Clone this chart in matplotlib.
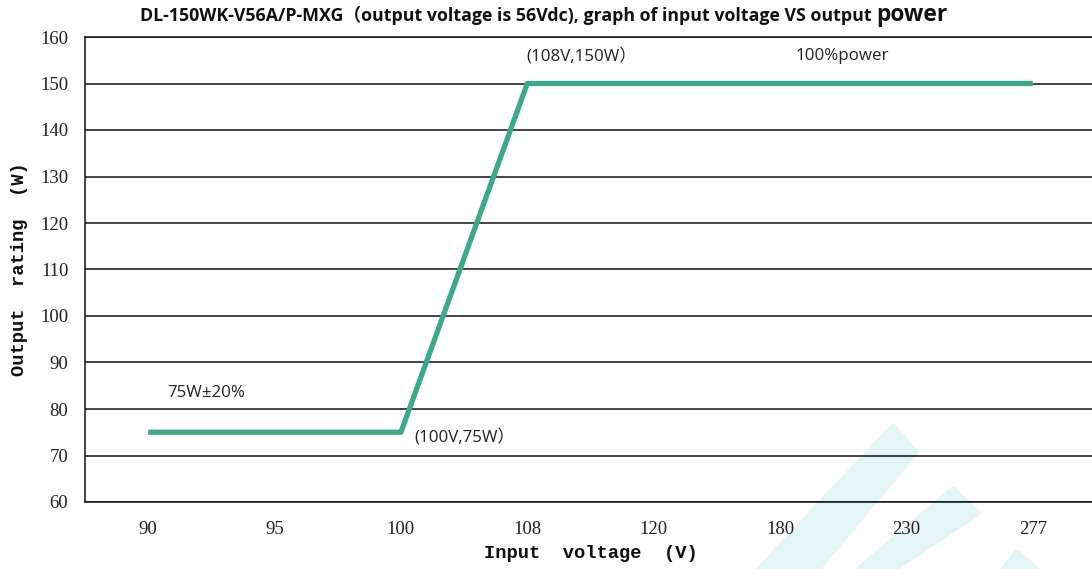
import matplotlib
matplotlib.use("Agg")
import matplotlib.pyplot as plt
from matplotlib.patches import Polygon
import numpy as np

# input voltage categories and output power
voltages = ["90", "95", "100", "108", "120", "180", "230", "277"]
power = [75, 75, 75, 150, 150, 150, 150, 150]
yticks = [60, 70, 80, 90, 100, 110, 120, 130, 140, 150, 160]

line_color = "#3fa88a"
serif = ["Liberation Serif", "DejaVu Serif"]
mono = ["Liberation Mono", "DejaVu Sans Mono"]
sans = ["Open Sans", "Noto Sans CJK SC", "DejaVu Sans"]

fig = plt.figure(figsize=(10.92, 5.69), dpi=100)

# watermark stripes (figure pixel coords)
wm = "#e5f4f5"
stripes = [
    [(893, 427), (915, 452), (817, 569), (760, 569)],
    [(953, 490), (977, 513), (893, 569), (860, 569)],
    [(1017, 553), (1035, 569), (1005, 569)],
]
for s in stripes:
    pts = [(x / 1092, 1 - y / 569) for x, y in s]
    fig.patches.append(Polygon(pts, closed=True, transform=fig.transFigure,
                               facecolor=wm, edgecolor=wm, lw=5, joinstyle="round", zorder=-5))

ax = fig.add_axes([85 / 1092, 67 / 569, 1011 / 1092, 465 / 569])
ax.patch.set_alpha(0)
x = np.arange(len(voltages))
ax.plot(x, power, color=line_color, lw=3.8, solid_capstyle="butt", zorder=3)

ax.set_xlim(-0.5, len(voltages) - 0.5)
ax.set_ylim(60, 160)
ax.set_yticks(yticks)
ax.set_xticks(x)
ax.set_xticklabels(voltages, fontfamily=serif, fontsize=13.5, color="#222222")
ax.set_yticklabels([str(v) for v in yticks], fontfamily=serif, fontsize=13.5, color="#222222")
ax.tick_params(axis="y", length=0, pad=12)
ax.tick_params(axis="x", length=0, pad=14)
ax.grid(axis="y", color="#111111", lw=1.1)
ax.spines["right"].set_visible(False)
for sp in ["left", "top", "bottom"]:
    ax.spines[sp].set_color("#111111")
    ax.spines[sp].set_linewidth(1.1)

ax.set_xlabel("Input  voltage  (V)", fontfamily=mono, fontweight="bold", fontsize=13.5,
              labelpad=5, color="#111111")
ax.set_ylabel("Output  rating  (W)", fontfamily=mono, fontweight="bold", fontsize=13.5,
              labelpad=9, color="#111111")

fs = 12.2
ax.text(0.15, 83.4, "75W±20%", fontfamily=sans, fontsize=fs, va="center", color="#222222")
ax.text(2.11, 74, "(100V,75W）", fontfamily=sans, fontsize=fs, va="center", color="#222222")
ax.text(2.99, 156, "(108V,150W）", fontfamily=sans, fontsize=fs, va="center", color="#222222")
ax.text(5.12, 156, "100%power", fontfamily=sans, fontsize=fs, va="center", color="#222222")

t1 = fig.text(140 / 1092, 1 - 21 / 569,
              "DL-150WK-V56A/P-MXG（output voltage is 56Vdc), graph of input voltage VS output ",
              fontfamily=sans, fontweight="bold", fontsize=12.75, va="baseline", color="#111111")
fig.canvas.draw()
bb = t1.get_window_extent()
fig.text(bb.x1 / fig.bbox.width, 1 - 21 / 569, "power", fontfamily=sans, fontweight="bold",
         fontsize=16.4, va="baseline", color="#111111")

fig.savefig("out.png", dpi=100)
